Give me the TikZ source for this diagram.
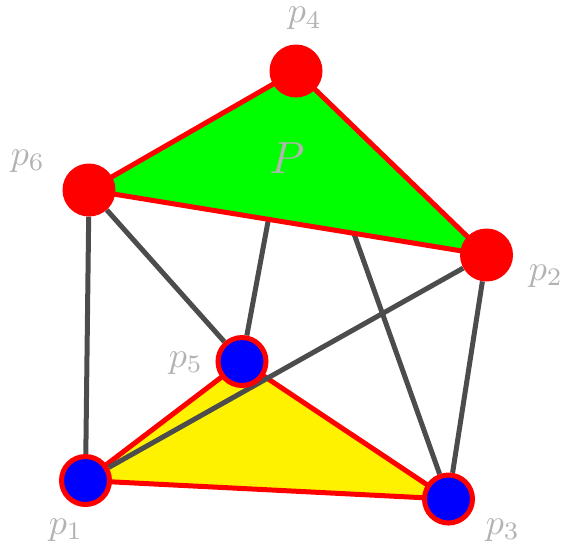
\documentclass[tikz,border=0pt]{standalone}
\usepackage{graphicx}
\usetikzlibrary{backgrounds}
\newcommand{\biglab}[2]{\scalebox{#1}{#2}}
\begin{document}
\begin{tikzpicture}[x=1pt,y=-1pt,
  redpt/.style={circle, fill=red, minimum size=53pt, inner sep=0pt},
  bluept/.style={circle, fill=blue, draw=red, line width=5pt, minimum size=48pt, inner sep=0pt},
  grayedge/.style={draw=black!70, line width=5pt},
  tri/.style={draw=red, line width=5pt, line join=round},
  lbl/.style={text=black!30, inner sep=0pt}]
\useasboundingbox (0,0) rectangle (561,550);
\node[redpt] (p4) at (296,71) {};
\node[redpt] (p6) at (89,190) {};
\node[redpt] (p2) at (486.5,255) {};
\node[bluept] (p5) at (242,361.5) {};
\node[bluept] (p1) at (85.5,480.5) {};
\node[bluept] (p3) at (448.5,499) {};
\begin{scope}[on background layer]
  \draw[grayedge] (p4) -- (p5);
  \draw[grayedge] (p4) -- (p3);
  \filldraw[tri, fill=green] (p4.center) -- (p6.center) -- (p2.center) -- cycle;
  \filldraw[tri, fill=yellow] (p5.center) -- (p1.center) -- (p3.center) -- cycle;
  \draw[grayedge] (p6) -- (p1);
  \draw[grayedge] (p6) -- (p5);
  \draw[grayedge] (p2) -- (p1);
  \draw[grayedge] (p2) -- (p3);
\end{scope}
\node[lbl] (l4) at (305,18.5) {\biglab{3.6}{$p_4$}};
\node[lbl] (l6) at (28,161) {\biglab{3.6}{$p_6$}};
\node[lbl] (l2) at (546,276) {\biglab{3.6}{$p_2$}};
\node[lbl] (l5) at (186,363) {\biglab{3.6}{$p_5$}};
\node[lbl] (l1) at (66,530) {\biglab{3.6}{$p_1$}};
\node[lbl] (l3) at (503,530) {\biglab{3.6}{$p_3$}};
\node[lbl] (lP) at (287,158) {\biglab{4.5}{$P$}};
\end{tikzpicture}
\end{document}
